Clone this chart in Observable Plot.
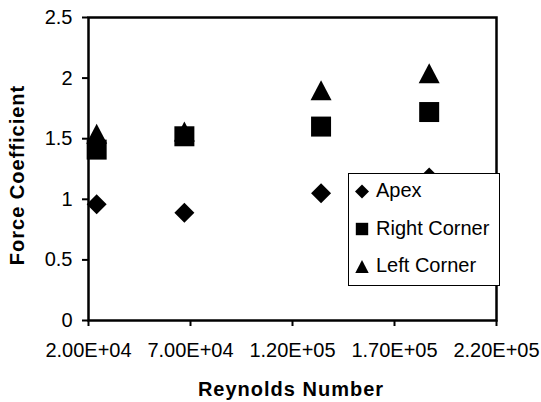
<!DOCTYPE html>
<html><head><meta charset="utf-8">
<script src="https://cdn.jsdelivr.net/npm/d3@7"></script>
<script src="https://cdn.jsdelivr.net/npm/@observablehq/plot@0.6"></script>
<style>body{margin:0;background:#fff}</style>
</head><body><div id="chart"></div>
<script>
const reynolds = [24000, 67000, 134000, 187000];
const apex = [0.96, 0.89, 1.05, 1.18];
const rightCorner = [1.41, 1.52, 1.60, 1.72];
const leftCorner = [1.54, 1.56, 1.90, 2.04];
const seriesNames = ["Apex", "Right Corner", "Left Corner"];
const xTicks = [20000, 70000, 120000, 170000, 220000];
const xTickLabels = ["2.00E+04", "7.00E+04", "1.20E+05", "1.70E+05", "2.20E+05"];
const yTicks = [0, 0.5, 1, 1.5, 2, 2.5];
const yTickLabels = ["0", "0.5", "1", "1.5", "2", "2.5"];

const FONT = "'Liberation Sans', Arial, sans-serif";

const diamondSym = {draw(ctx, size) { const h = Math.sqrt(size / Math.PI);
  ctx.moveTo(0, -h); ctx.lineTo(h, 0); ctx.lineTo(0, h); ctx.lineTo(-h, 0); ctx.closePath(); }};
const squareSym = {draw(ctx, size) { const h = Math.sqrt(size / Math.PI);
  ctx.moveTo(-h, -h); ctx.lineTo(h, -h); ctx.lineTo(h, h); ctx.lineTo(-h, h); ctx.closePath(); }};
const triangleSym = {draw(ctx, size) { const h = Math.sqrt(size / Math.PI);
  ctx.moveTo(0, -h); ctx.lineTo(h * 1.05, h); ctx.lineTo(-h * 1.05, h); ctx.closePath(); }};
const symbols = [diamondSym, squareSym, triangleSym];
const seriesValues = [apex, rightCorner, leftCorner];

const table = seriesValues.map(vals => reynolds.map((x, i) => ({x, y: vals[i]})));

const chart = Plot.plot({
  width: 541, height: 402,
  marginLeft: 88, marginRight: 45, marginTop: 17, marginBottom: 82,
  style: {fontFamily: FONT, fontSize: "20px", background: "white", color: "black"},
  x: {domain: [20000, 220000]},
  y: {domain: [0, 2.5]},
  marks: [
    Plot.axisY({ticks: yTicks, tickFormat: d => yTickLabels[yTicks.indexOf(d)], tickSize: 6, tickPadding: 10, strokeWidth: 2, fontSize: 20, label: null}),
    Plot.axisX({ticks: xTicks, tickFormat: d => xTickLabels[xTicks.indexOf(d)], tickSize: 6, tickPadding: 16, strokeWidth: 2, fontSize: 20, label: null}),
    Plot.dot(table[2], {x: "x", y: "y", symbol: triangleSym, r: 10, fill: "black", stroke: "none"}),
    Plot.dot(table[1], {x: "x", y: "y", symbol: squareSym, r: 10, fill: "black", stroke: "none"}),
    Plot.dot(table[0], {x: "x", y: "y", symbol: diamondSym, r: 10, fill: "black", stroke: "none"}),
    Plot.frame({stroke: "black", strokeWidth: 2.5})
  ]
});
document.getElementById("chart").appendChild(chart);

const svg = d3.select(chart);
// axis titles
svg.append("text").attr("transform", "translate(24,175) rotate(-90)")
  .attr("text-anchor", "middle").attr("font-family", FONT).attr("font-size", 20)
  .attr("font-weight", "bold").attr("letter-spacing", 1).attr("fill", "black").text("Force Coefficient");
svg.append("text").attr("x", 291).attr("y", 396)
  .attr("text-anchor", "middle").attr("font-family", FONT).attr("font-size", 20)
  .attr("font-weight", "bold").attr("letter-spacing", 1).attr("fill", "black").text("Reynolds Number");
// legend
const lg = svg.append("g");
lg.append("rect").attr("x", 348.5).attr("y", 173.5).attr("width", 151).attr("height", 112)
  .attr("fill", "white").attr("stroke", "black").attr("stroke-width", 1);
const legendR = [7, 6.2, 6.4];
seriesNames.forEach((name, i) => {
  const cy = 191.5 + 37.5 * i;
  const p = d3.path();
  symbols[i].draw(p, Math.PI * legendR[i] * legendR[i]);
  lg.append("path").attr("d", p.toString()).attr("transform", `translate(362,${cy})`).attr("fill", "black");
  lg.append("text").attr("x", 376).attr("y", cy + 5.5).attr("text-anchor", "start").attr("font-family", FONT)
    .attr("font-size", 20).attr("fill", "black").text(name);
});
</script>
</body></html>
